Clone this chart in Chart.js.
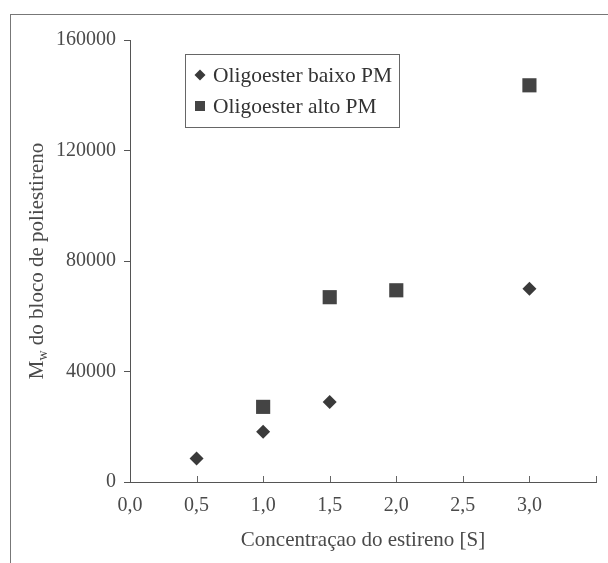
<!DOCTYPE html>
<html lang="pt">
<head>
  <meta charset="UTF-8">
  <title>Mw do bloco de poliestireno</title>
  <script src="https://cdn.jsdelivr.net/npm/chart.js"></script>
  <style>
    html, body { margin: 0; padding: 0; background: #fff; }
    #wrap { position: relative; width: 608px; height: 563px; overflow: hidden; }
    #frame { position: absolute; left: 10px; top: 14px; width: 700px; height: 700px;
             border-left: 1px solid #777; border-top: 1px solid #777; }
    #chart { position: absolute; left: 0; top: 0; }
  </style>
</head>
<body>
<div id="wrap">
  <div id="frame"></div>
  <canvas id="chart" width="608" height="563"></canvas>
</div>

<script>
// dados
const seriesNames = ["Oligoester baixo PM", "Oligoester alto PM"];
const baixoX = [0.5, 1.0, 1.5, 3.0];
const baixoY = [8500, 18200, 29000, 70000];
const altoX = [1.0, 1.5, 2.0, 3.0];
const altoY = [27200, 66900, 69400, 143600];
const xTickLabels = ["0,0", "0,5", "1,0", "1,5", "2,0", "2,5", "3,0", ""];
const yTickLabels = ["0", "40000", "80000", "120000", "160000"];

const serif = "'Liberation Serif', 'Times New Roman', serif";
const ink = "#4a4a4a";

function toPoints(xs, ys) {
  return xs.map((x, i) => ({ x: x, y: ys[i] }));
}

// pequenos traços do eixo x voltados para dentro
const innerTicks = {
  id: "innerTicks",
  afterDraw(chart) {
    const ctx = chart.ctx, x = chart.scales.x, bottom = chart.chartArea.bottom;
    ctx.save();
    ctx.strokeStyle = "#666";
    ctx.lineWidth = 1;
    x.ticks.forEach(t => {
      if (t.value === 0) return;
      const px = Math.round(x.getPixelForValue(t.value)) + 0.5;
      ctx.beginPath();
      ctx.moveTo(px, bottom);
      ctx.lineTo(px, bottom - 6);
      ctx.stroke();
    });
    ctx.restore();
  }
};

// título do eixo y com subscrito
const yTitle = {
  id: "yTitle",
  afterDraw(chart) {
    const ctx = chart.ctx, a = chart.chartArea;
    ctx.save();
    ctx.translate(37, (a.top + a.bottom) / 2);
    ctx.rotate(-Math.PI / 2);
    ctx.fillStyle = ink;
    ctx.textBaseline = "middle";
    const big = "21px " + serif, small = "14px " + serif;
    const rest = " do bloco de poliestireno";
    ctx.font = big;
    const wM = ctx.measureText("M").width, wRest = ctx.measureText(rest).width;
    ctx.font = small;
    const wW = ctx.measureText("w").width;
    let x0 = -(wM + wW + wRest) / 2;
    ctx.font = big;
    ctx.fillText("M", x0, 0);
    ctx.font = small;
    ctx.fillText("w", x0 + wM, 6);
    ctx.font = big;
    ctx.fillText(rest, x0 + wM + wW, 0);
    ctx.restore();
  }
};

// legenda dentro da área do gráfico
const boxLegend = {
  id: "boxLegend",
  afterDraw(chart) {
    const ctx = chart.ctx;
    ctx.save();
    ctx.strokeStyle = "#666";
    ctx.lineWidth = 1;
    ctx.strokeRect(185.5, 54.5, 214, 73);
    ctx.font = "21.5px " + serif;
    ctx.textBaseline = "middle";
    const rows = [75, 106];
    chart.data.datasets.forEach((ds, i) => {
      const cy = rows[i], cx = 200;
      ctx.fillStyle = ds.backgroundColor;
      ctx.beginPath();
      if (ds.pointStyle === "rectRot") {
        ctx.moveTo(cx, cy - 5.5); ctx.lineTo(cx + 5.5, cy);
        ctx.lineTo(cx, cy + 5.5); ctx.lineTo(cx - 5.5, cy);
        ctx.closePath();
      } else {
        ctx.rect(cx - 5, cy - 5, 10, 10);
      }
      ctx.fill();
      ctx.fillStyle = "#333";
      ctx.fillText(ds.label, 213, cy + 1);
    });
    ctx.restore();
  }
};

new Chart(document.getElementById("chart"), {
  type: "scatter",
  data: {
    datasets: [
      {
        label: seriesNames[0],
        data: toPoints(baixoX, baixoY),
        pointStyle: "rectRot",
        pointRadius: 7,
        backgroundColor: "#3a3a3a",
        borderColor: "#3a3a3a",
        borderWidth: 0
      },
      {
        label: seriesNames[1],
        data: toPoints(altoX, altoY),
        pointStyle: "rect",
        pointRadius: 10,
        backgroundColor: "#444",
        borderColor: "#444",
        borderWidth: 0
      }
    ]
  },
  options: {
    responsive: false,
    animation: false,
    layout: { padding: { top: 40, right: 10, left: 0, bottom: 0 } },
    plugins: {
      legend: { display: false },
      tooltip: { enabled: false }
    },
    scales: {
      x: {
        type: "linear",
        min: 0,
        max: 3.5,
        afterFit: s => { s.height = 81; },
        border: { color: "#555", width: 1 },
        grid: { display: false, drawTicks: false },
        ticks: {
          stepSize: 0.5,
          padding: 12,
          color: ink,
          font: { family: serif, size: 20 },
          callback: (v, i) => xTickLabels[i]
        },
        title: {
          display: true,
          text: "Concentraçao do estireno [S]",
          color: ink,
          font: { family: serif, size: 21 },
          padding: { top: 0, bottom: 10 }
        }
      },
      y: {
        min: 0,
        max: 160000,
        afterFit: s => { s.width = 130; },
        border: { color: "#555", width: 1 },
        grid: { drawOnChartArea: false, drawTicks: true, tickLength: 6, color: "#555" },
        ticks: {
          stepSize: 40000,
          padding: 8,
          color: ink,
          font: { family: serif, size: 20 },
          callback: (v, i) => yTickLabels[i]
        }
      }
    }
  },
  plugins: [innerTicks, yTitle, boxLegend]
});
</script>
</body>
</html>
